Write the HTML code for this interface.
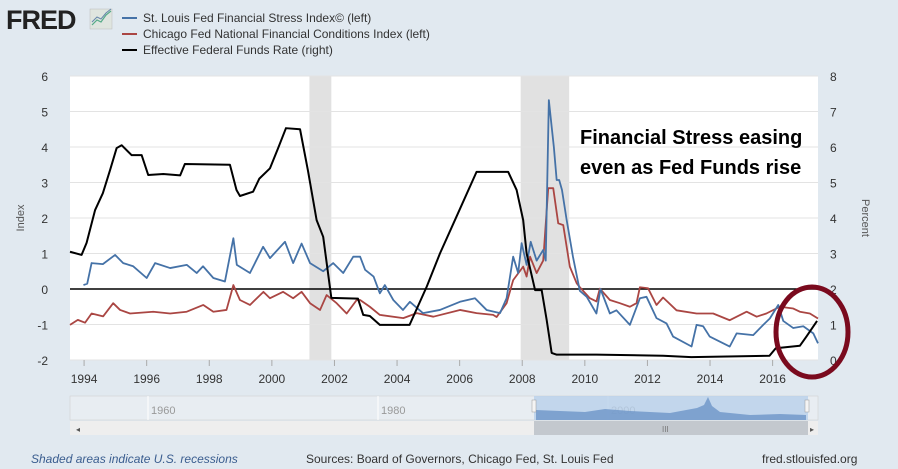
<!DOCTYPE html>
<html><head><meta charset="utf-8"><style>
body{margin:0;width:898px;height:469px;background:#e1e9f0;font-family:"Liberation Sans",sans-serif;overflow:hidden}
svg{display:block}
</style></head><body>
<svg width="898" height="469" font-family="Liberation Sans, sans-serif">
<rect width="898" height="469" fill="#e1e9f0"/>
<g>
<text x="6" y="29" font-size="27" font-weight="bold" fill="#222" letter-spacing="-1">FRED</text>
<rect x="90" y="9" width="22" height="20" fill="#dfe5df" stroke="#bbb" stroke-width="0.5"/>
<polyline points="92,25 97,20 101,22 106,15 111,11" fill="none" stroke="#5a8" stroke-width="1.2"/>
<polyline points="92,22 97,17 101,19 106,13 111,9" fill="none" stroke="#68a" stroke-width="1"/>
</g>
<g font-size="12" fill="#333">
<g><line x1="122" y1="18" x2="137" y2="18" stroke="#4572a7" stroke-width="2"/><text x="143" y="22">St. Louis Fed Financial Stress Index© (left)</text></g>
<g><line x1="122" y1="34" x2="137" y2="34" stroke="#aa4643" stroke-width="2"/><text x="143" y="38">Chicago Fed National Financial Conditions Index (left)</text></g>
<g><line x1="122" y1="50" x2="137" y2="50" stroke="#000" stroke-width="2"/><text x="143" y="54">Effective Federal Funds Rate (right)</text></g>
</g>
<rect x="70" y="76" width="748" height="284" fill="#fff"/>
<g id="rec"></g><g id="grid"></g><g id="series"></g><g id="axes"></g>
<text x="580" y="144" font-size="20" font-weight="bold" fill="#000">Financial Stress easing</text>
<text x="580" y="174" font-size="20" font-weight="bold" fill="#000">even as Fed Funds rise</text>
<ellipse cx="812" cy="332" rx="36" ry="45" fill="none" stroke="#7a0a1e" stroke-width="5"/>
<text transform="translate(24,218) rotate(-90)" font-size="11" fill="#555" text-anchor="middle">Index</text>
<text transform="translate(862,218) rotate(90)" font-size="11" fill="#555" text-anchor="middle">Percent</text>
<g>
<rect x="70" y="396" width="748" height="24" fill="#e8edf2" stroke="#ccc" stroke-width="0.5"/>
<line x1="148" y1="396" x2="148" y2="420" stroke="#fff"/><line x1="378" y1="396" x2="378" y2="420" stroke="#fff"/><line x1="608" y1="396" x2="608" y2="420" stroke="#fff"/>
<text x="151" y="414" font-size="11" fill="#999">1960</text><text x="381" y="414" font-size="11" fill="#999">1980</text><text x="611" y="414" font-size="11" fill="#999">2000</text>
<rect x="534" y="396" width="274" height="24" fill="#b8cfea" opacity="0.8"/>
<path d="M536,420 L536,410 L560,411 L585,412 L605,409 L630,411 L670,413 L697,408 L704,405 L708,397 L712,406 L720,412 L750,415 L780,414 L806,415 L806,420Z" fill="#6d95c8" opacity="0.8"/>
<rect x="532" y="400" width="4" height="12" fill="#f4f4f4" stroke="#999" stroke-width="0.5"/>
<rect x="805" y="400" width="4" height="12" fill="#f4f4f4" stroke="#999" stroke-width="0.5"/>
</g>
<g>
<rect x="70" y="421" width="748" height="14" fill="#eee"/>
<rect x="534" y="421" width="274" height="14" fill="#c3c8ce"/>
<text x="76" y="432" font-size="8" fill="#555">◂</text><text x="810" y="432" font-size="8" fill="#555">▸</text>
<text x="662" y="432" font-size="8" fill="#777">III</text>
</g>
<text x="31" y="463" font-size="12" font-style="italic" fill="#3a5d8f">Shaded areas indicate U.S. recessions</text>
<text x="306" y="463" font-size="12" fill="#333">Sources: Board of Governors, Chicago Fed, St. Louis Fed</text>
<text x="762" y="463" font-size="12" fill="#333">fred.stlouisfed.org</text>
</svg>
<script>
const recessions=[[2001.2,2001.9],[2007.95,2009.5]];
const xTicks=[1994,1996,1998,2000,2002,2004,2006,2008,2010,2012,2014,2016];
const leftTicks=[6,5,4,3,2,1,0,-1,-2];
const rightTicks=[8,7,6,5,4,3,2,1,0];
const ffDates=[1993.55,1993.92,1994.08,1994.35,1994.6,1994.83,1995.04,1995.2,1995.52,1995.84,1996.05,1996.53,1997.07,1997.22,1998.66,1998.87,1998.98,1999.4,1999.6,1999.94,2000.2,2000.45,2000.9,2001.15,2001.43,2001.64,2001.9,2002.75,2002.92,2003.13,2003.45,2004.4,2004.95,2005.37,2005.9,2006.54,2007.55,2007.82,2008.03,2008.14,2008.41,2008.62,2008.78,2008.94,2009.1,2010.37,2012.5,2013.4,2015.9,2016.1,2016.87,2017.08,2017.42];
const ffValues=[3.05,2.96,3.3,4.22,4.7,5.35,5.97,6.05,5.77,5.77,5.21,5.24,5.2,5.52,5.5,4.79,4.62,4.74,5.11,5.4,5.97,6.53,6.5,5.35,3.94,3.47,1.75,1.73,1.27,1.24,0.99,0.99,2.07,3.0,4.04,5.3,5.3,4.79,3.94,3.0,1.97,1.97,1.13,0.2,0.15,0.15,0.12,0.08,0.12,0.33,0.4,0.66,1.1];
const stlDates=[1993.98,1994.1,1994.24,1994.6,1994.99,1995.25,1995.57,1996.0,1996.27,1996.75,1997.28,1997.6,1997.8,1998.13,1998.5,1998.77,1998.88,1999.3,1999.72,1999.94,2000.42,2000.68,2000.95,2001.22,2001.64,2001.96,2002.28,2002.6,2002.82,2002.98,2003.25,2003.45,2003.61,2003.88,2004.19,2004.41,2004.83,2005.37,2006.01,2006.49,2006.86,2007.29,2007.5,2007.71,2007.87,2007.98,2008.14,2008.27,2008.46,2008.67,2008.75,2008.85,2008.94,2009.01,2009.1,2009.18,2009.27,2009.42,2009.62,2009.84,2010.06,2010.37,2010.5,2010.8,2011.01,2011.44,2011.76,2011.97,2012.29,2012.61,2012.82,2013.41,2013.57,2013.78,2013.99,2014.63,2014.85,2015.38,2015.7,2015.91,2016.18,2016.34,2016.66,2016.98,2017.3,2017.45];
const stlValues=[0.11,0.15,0.73,0.7,0.96,0.73,0.64,0.31,0.73,0.59,0.68,0.45,0.64,0.31,0.21,1.43,0.68,0.45,1.19,0.87,1.33,0.73,1.28,0.73,0.5,0.73,0.45,0.91,0.91,0.54,0.35,-0.12,0.11,-0.31,-0.59,-0.36,-0.68,-0.59,-0.36,-0.26,-0.59,-0.68,-0.26,0.91,0.45,1.29,0.68,1.33,0.8,1.1,0.8,5.32,4.57,4.0,3.07,3.07,2.79,1.94,0.91,-0.05,-0.22,-0.69,0.0,-0.69,-0.6,-1.01,-0.26,-0.22,-0.82,-0.97,-1.34,-1.62,-1.01,-1.05,-1.34,-1.62,-1.25,-1.3,-1.01,-0.83,-0.45,-0.9,-1.1,-1.05,-1.25,-1.53];
const nfDates=[1993.55,1993.8,1994.03,1994.24,1994.61,1994.93,1995.15,1995.47,1996.21,1996.75,1997.28,1997.81,1998.13,1998.55,1998.77,1998.98,1999.3,1999.73,1999.94,2000.36,2000.68,2000.95,2001.22,2001.54,2001.75,2002.07,2002.39,2002.71,2002.82,2003.13,2003.45,2004.2,2004.63,2005.16,2006.01,2006.54,2007.07,2007.18,2007.5,2007.71,2008.03,2008.14,2008.25,2008.46,2008.67,2008.83,2008.99,2009.15,2009.31,2009.52,2009.74,2009.84,2010.16,2010.37,2010.48,2010.8,2011.12,2011.44,2011.65,2011.76,2012.02,2012.29,2012.5,2012.93,2013.57,2014.1,2014.63,2015.17,2015.49,2015.8,2016.23,2016.66,2016.87,2017.19,2017.45];
const nfValues=[-1.01,-0.87,-0.95,-0.69,-0.77,-0.4,-0.59,-0.69,-0.64,-0.69,-0.64,-0.45,-0.64,-0.59,0.11,-0.31,-0.45,-0.08,-0.26,-0.08,-0.26,-0.08,-0.4,-0.59,-0.17,-0.4,-0.69,-0.31,-0.31,-0.5,-0.73,-0.82,-0.68,-0.78,-0.59,-0.68,-0.73,-0.79,-0.4,0.25,0.63,0.35,0.91,0.45,0.8,2.84,2.84,1.85,1.8,0.63,0.16,0.05,-0.26,-0.35,0.01,-0.31,-0.4,-0.5,-0.4,0.05,0.02,-0.45,-0.24,-0.6,-0.69,-0.69,-0.88,-0.64,-0.78,-0.69,-0.5,-0.55,-0.64,-0.69,-0.83];
const X0=70,X1=818,T0=1993.55,T1=2017.45;
const xS=t=>X0+(t-T0)/(T1-T0)*(X1-X0);
const yL=v=>289-v*35.5;
const yR=v=>yL(v-2);
const NS='http://www.w3.org/2000/svg';
function mk(tag,attrs,parent){const e=document.createElementNS(NS,tag);for(const k in attrs)e.setAttribute(k,attrs[k]);document.getElementById(parent).appendChild(e);return e;}
recessions.forEach(r=>{const e=mk('rect',{x:xS(r[0]),y:76,width:xS(r[1])-xS(r[0]),height:284,fill:'#e1e1e1'},'rec');

});
leftTicks.forEach(v=>{const g=mk('line',{x1:X0,x2:X1,y1:yL(v),y2:yL(v),stroke:'#e3e3e3','stroke-width':1},'grid');


const t=mk('text',{x:48,y:yL(v)+5,'font-size':12,fill:'#333','text-anchor':'end'},'axes');t.textContent=v;

});
rightTicks.forEach(v=>{const t=mk('text',{x:830,y:yR(v)+5,'font-size':12,fill:'#333'},'axes');t.textContent=v;

});
xTicks.forEach(v=>{const l=mk('line',{x1:xS(v),x2:xS(v),y1:360,y2:366,stroke:'#aaa'},'axes');


const t=mk('text',{x:xS(v),y:383,'font-size':12,fill:'#333','text-anchor':'middle'},'axes');t.textContent=v;

});
const z=mk('line',{x1:X0,x2:X1,y1:yL(0),y2:yL(0),stroke:'#000','stroke-width':1.5},'grid');


function line(d,v,sc,col,w,name){const p=mk('polyline',{points:d.map((t,i)=>xS(t)+','+sc(v[i])).join(' '),fill:'none',stroke:col,'stroke-width':w,'stroke-linejoin':'round'},'series');

}
line(nfDates,nfValues,yL,'#aa4643',1.8,'nfci-line');
line(stlDates,stlValues,yL,'#4572a7',1.8,'stlfsi-line');
line(ffDates,ffValues,yR,'#000',2,'fedfunds-line');
</script>
</body></html>
